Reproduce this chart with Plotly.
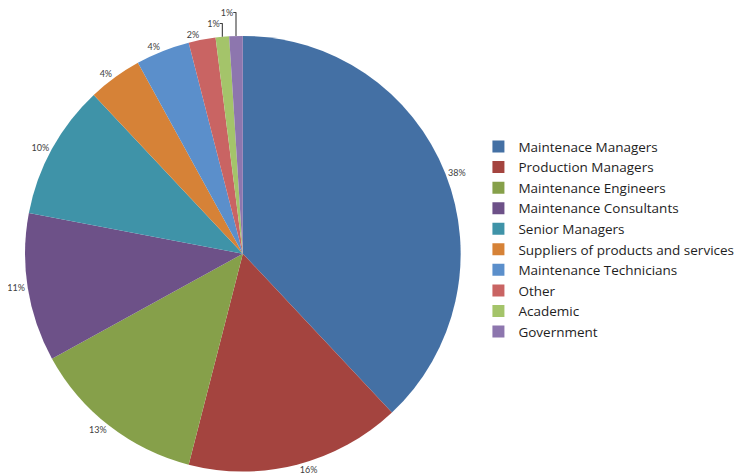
import plotly.graph_objects as go

roles = [
    "Maintenace Managers",
    "Production Managers",
    "Maintenance Engineers",
    "Maintenance Consultants",
    "Senior Managers",
    "Suppliers of products and services",
    "Maintenance Technicians",
    "Other",
    "Academic",
    "Government",
]
shares = [38, 16, 13, 11, 10, 4, 4, 2, 1, 1]
colors = [
    "#4470A4", "#A4443F", "#86A04A", "#6D5188", "#3F93A8",
    "#D68237", "#5B8FCB", "#C96463", "#A4C46A", "#8D76AE",
]

fig = go.Figure(
    go.Pie(
        labels=roles,
        values=shares,
        sort=False,
        direction="clockwise",
        rotation=0,
        marker={"colors": colors, "line": {"width": 0}},
        textinfo="percent",
        texttemplate="%{value}%",
        textposition="outside",
        textfont={"family": "Lato, Liberation Sans, sans-serif", "size": 9, "color": "#404040"},
        domain={"x": [0.0225, 0.6105], "y": [0.02, 0.941]},
        hoverinfo="label+percent",
    )
)

fig.update_layout(
    width=742,
    height=473,
    margin={"l": 0, "r": 0, "t": 0, "b": 0, "autoexpand": False},
    paper_bgcolor="white",
    plot_bgcolor="white",
    showlegend=True,
    legend={
        "x": 0.634,
        "y": 0.511,
        "xanchor": "left",
        "yanchor": "middle",
        "font": {"family": "Open Sans, Lato, sans-serif", "size": 13.5, "color": "#1e1e1e"},
        "itemwidth": 30,
        "tracegroupgap": 0,
    },
)

fig.write_html("out.html")
